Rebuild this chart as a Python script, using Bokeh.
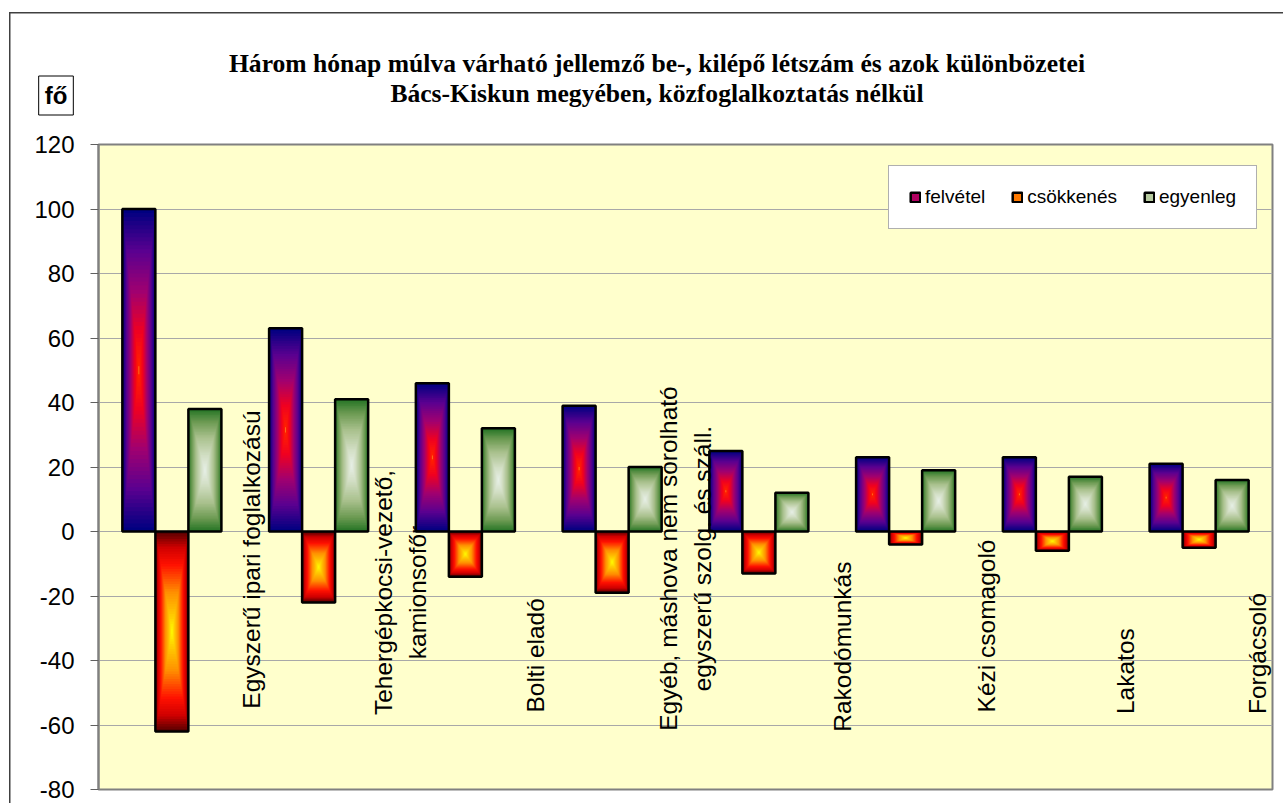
import math
from bokeh.plotting import figure
from bokeh.models import (ColumnDataSource, Range1d, FixedTicker, Legend, LegendItem,
                          PrintfTickFormatter, Label)
from bokeh.core.properties import value
from bokeh.embed import file_html
from bokeh.resources import INLINE

# ---------------- data ----------------
categories = [
    "Egyszerű ipari foglalkozású",
    "Tehergépkocsi-vezető,\nkamionsofőr",
    "Bolti eladó",
    "Egyéb, máshova nem sorolható\negyszerű szolg. és száll.",
    "Rakodómunkás",
    "Kézi csomagoló",
    "Lakatos",
    "Forgácsoló",
]
felvetel = [100, 63, 46, 39, 25, 23, 23, 21]
csokkenes = [-62, -22, -14, -19, -13, -4, -6, -5]
egyenleg = [38, 41, 32, 20, 12, 19, 17, 16]
series_names = ["felvétel", "csökkenés", "egyenleg"]
y_ticks = [-80, -60, -40, -20, 0, 20, 40, 60, 80, 100, 120]
title_lines = [
    "Három hónap múlva várható jellemző be-, kilépő létszám és azok különbözetei",
    "Bács-Kiskun megyében, közfoglalkoztatás nélkül",
]
unit_label = "fő"

# ---------------- styling ----------------
ramps = {
    "felvétel": [(0.0, "#FFD040"), (0.05, "#FF2000"), (0.25, "#F00020"),
                 (0.5, "#A00070"), (0.75, "#5A0090"), (1.0, "#000080")],
    "csökkenés": [(0.0, "#FFFF00"), (0.15, "#FFD000"), (0.4, "#FF9000"),
                  (0.68, "#FF1000"), (0.85, "#D00000"), (1.0, "#5A0000")],
    "egyenleg": [(0.0, "#E8F0E8"), (0.25, "#D2DEC4"), (0.55, "#A8C08C"),
                 (0.8, "#6C9A52"), (1.0, "#267526")],
}
bar_w = 0.225
offsets = [-bar_w, 0.0, bar_w]
N_LEVELS = 40
LEGEND_LEVEL = 22
FONT = "Liberation Sans"
BORDER = "#404040"
W, H = 1283, 803
# label anchor positions (annotation placement, category units / value units)
label_x = [1.04, 2.06, 2.98, 4.0, 5.07, 6.05, 7.0, 7.9]
label_y = [-8.7, -18.9, -38.4, -8.4, -35.7, -29.3, -43.3, -37.8]


def hex2rgb(h):
    h = h.lstrip("#")
    return tuple(int(h[i:i + 2], 16) for i in (0, 2, 4))


def ramp_color(stops, t):
    for (t0, c0), (t1, c1) in zip(stops[:-1], stops[1:]):
        if t0 <= t <= t1:
            f = (t - t0) / (t1 - t0) if t1 > t0 else 0
            a, b = hex2rgb(c0), hex2rgb(c1)
            return "#%02x%02x%02x" % tuple(int(round(a[i] + (b[i] - a[i]) * f)) for i in range(3))
    return stops[-1][1]


p = figure(width=W, height=H, x_range=Range1d(0, 8), y_range=Range1d(-80, 120),
           output_backend="svg", toolbar_location=None, x_axis_location=None,
           title_location=None,
           min_border_left=98, min_border_right=11, min_border_top=144, min_border_bottom=14)
p.background_fill_color = "#FFFFCC"
p.border_fill_alpha = 0
# outer chart border (top and left edges) drawn as the figure's own background
p.styles = {"background": (
    "linear-gradient(%s, %s) 9px 12px / calc(100%% - 9px) 1.5px no-repeat, "
    "linear-gradient(%s, %s) 9px 12px / 1.5px calc(100%% - 12px) no-repeat, white"
) % (BORDER, BORDER, BORDER, BORDER)}
p.outline_line_color = "#808080"
p.outline_line_width = 2
p.xgrid.visible = False
p.ygrid.ticker = FixedTicker(ticks=y_ticks)
p.ygrid.grid_line_color = "#A8A8A8"
p.ygrid.grid_line_width = 1
yax = p.yaxis[0]
yax.ticker = FixedTicker(ticks=y_ticks)
yax.formatter = PrintfTickFormatter(format="%d")
yax.major_label_text_font = FONT
yax.major_label_text_font_size = "24px"
yax.major_label_text_color = "black"
yax.major_tick_out = 8
yax.major_tick_in = 0
yax.minor_tick_out = 0
yax.minor_tick_in = 0
yax.major_label_standoff = 16
yax.axis_line_color = "#808080"
yax.axis_line_width = 2
yax.major_tick_line_color = "#606060"

all_series = [felvetel, csokkenes, egyenleg]
legend_items = []
for s, (name, vals) in enumerate(zip(series_names, all_series)):
    stops = ramps[name]
    parts = []
    for k_range in (range(0, LEGEND_LEVEL), range(LEGEND_LEVEL, N_LEVELS)):
        xs, ys, ws, hs, cs = [], [], [], [], []
        for k in k_range:
            t = 1.0 - k / N_LEVELS
            col = ramp_color(stops, t)
            for i, v in enumerate(vals):
                xs.append(i + 0.5 + offsets[s])
                ys.append(v / 2.0)
                ws.append(bar_w * t)
                hs.append(abs(v) * t)
                cs.append(col)
        src = ColumnDataSource(dict(x=xs, y=ys, w=ws, h=hs, c=cs))
        parts.append(p.rect(x="x", y="y", width="w", height="h", fill_color="c",
                            line_color=None, source=src))
    osrc = ColumnDataSource(dict(x=[i + 0.5 + offsets[s] for i in range(len(vals))],
                                 y=[v / 2.0 for v in vals],
                                 w=[bar_w] * len(vals),
                                 h=[abs(v) for v in vals]))
    orr = p.rect(x="x", y="y", width="w", height="h", fill_color=None, line_color="black",
                 line_width=2.5, source=osrc)
    legend_items.append(LegendItem(label=name, renderers=[parts[1], orr], index=0))

# category labels (vertical, inside plot)
tsrc = ColumnDataSource(dict(x=label_x, y=label_y, text=categories))
p.text(x="x", y="y", text="text", angle=math.pi / 2, text_align="center",
       text_baseline="middle", text_font=value(FONT), text_font_size="24.5px",
       text_line_height=1.25, text_color="black", source=tsrc)

legend = Legend(items=legend_items, orientation="horizontal", location=(790, 560),
                label_text_font=FONT, label_text_font_size="19px", label_text_color="black",
                label_text_line_height=0.9,
                glyph_width=12, glyph_height=12, label_standoff=4, spacing=26,
                padding=20, margin=0, border_line_color="#606060", border_line_width=1,
                background_fill_color="white", background_fill_alpha=1.0)
p.add_layout(legend)

# title lines and unit box, placed in the top panel (canvas pixel units)
for txt, yy in zip(title_lines, [63, 93]):
    p.add_layout(Label(x=656.5, y=yy, x_units="canvas", y_units="canvas", text=txt,
                       text_align="center", text_baseline="alphabetic",
                       text_font="Liberation Serif", text_font_style="bold",
                       text_font_size="25.6px", text_color="black"), "above")
p.add_layout(Label(x=55.5, y=95, x_units="canvas", y_units="canvas", text=unit_label,
                   text_align="center", text_baseline="middle", text_font=FONT,
                   text_font_style="bold", text_font_size="24px", text_color="black",
                   border_line_color="black", border_line_width=1,
                   background_fill_color="white", padding=6), "above")

open("out.html", "w").write(file_html(p, INLINE))
